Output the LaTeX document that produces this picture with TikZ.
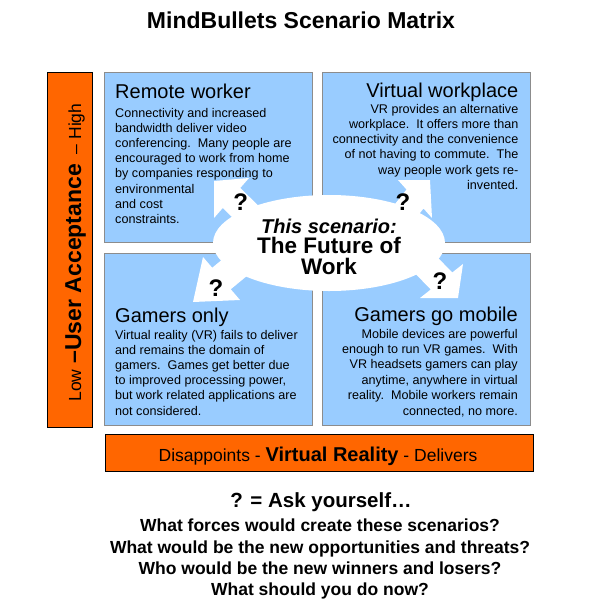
\documentclass[tikz,border=0pt]{standalone}
\usepackage{fontspec}
\setmainfont{Liberation Sans}
\usetikzlibrary{shapes.geometric}
\definecolor{boxblue}{HTML}{99CCFF}
\definecolor{boxgray}{HTML}{8C8C8C}
\definecolor{barorange}{HTML}{FF6600}
\newcommand{\fsz}[2]{\fontsize{#1}{#2}\selectfont}
\begin{document}
\begin{tikzpicture}[x=1pt,y=-1pt,
  quad/.style={draw=boxgray, fill=boxblue, line width=1.2pt, inner sep=0, anchor=north west},
  bar/.style={draw=black, fill=barorange, line width=1pt, inner sep=0, anchor=north west},
  head/.style={font=\fsz{20}{24}, inner sep=0},
  body/.style={font=\fsz{12.6}{15.2}, inner sep=0},
  qmark/.style={font=\bfseries\fsz{24}{28}, inner sep=0},
  ctext/.style={inner sep=0, anchor=base},
  arrowfill/.style={fill=white}
]
\useasboundingbox (0,0) rectangle (600,606);

% title
\node[ctext, font=\bfseries\fsz{23}{28}] (title) at (301,28) {MindBullets Scenario Matrix};

% quadrants
\node[quad, minimum width=208, minimum height=170] (qtl) at (104,72) {};
\node[quad, minimum width=208, minimum height=170] (qtr) at (322,72) {};
\node[quad, minimum width=208, minimum height=172] (qbl) at (104,253) {};
\node[quad, minimum width=208, minimum height=172] (qbr) at (322,253) {};

% axis bars
\node[bar, minimum width=45, minimum height=355] (ybar) at (47,72) {};
\node[bar, minimum width=428, minimum height=37] (xbar) at (105,434) {};

% top left
\node[head, anchor=base west] (htl) at (115,98) {Remote worker};
\foreach \t [count=\i from 0] in {{Connectivity and increased},{bandwidth deliver video},{conferencing.\ \ Many people are},{encouraged to work from home},{by companies responding to},{environmental},{and cost},{constraints.}}
  \node[body, anchor=base west] (tl\i) at (115,{117+15.2*\i}) {\t};

% top right
\node[head, anchor=base east] (htr) at (518.5,97) {Virtual workplace};
\foreach \t [count=\i from 0] in {{VR provides an alternative},{workplace.\ \ It offers more than},{connectivity and the convenience},{of not having to commute.\ \ The},{way people work gets re-},{invented.}}
  \node[body, anchor=base east] (tr\i) at (518.5,{113+15.3*\i}) {\t};

% bottom left
\node[head, anchor=base west] (hbl) at (115,322) {Gamers only};
\foreach \t [count=\i from 0] in {{Virtual reality (VR) fails to deliver},{and remains the domain of},{gamers.\ \ Games get better due},{to improved processing power,},{but work related applications are},{not considered.}}
  \node[body, anchor=base west] (bl\i) at (115,{339+15.2*\i}) {\t};

% bottom right
\node[head, anchor=base east] (hbr) at (518,321) {Gamers go mobile};
\foreach \t [count=\i from 0] in {{Mobile devices are powerful},{enough to run VR games.\ \ With},{VR headsets gamers can play},{anytime, anywhere in virtual},{reality.\ \ Mobile workers remain},{connected, no more.}}
  \node[body, anchor=base east] (br\i) at (518,{338+15.4*\i}) {\t};

% block arrows
\fill[arrowfill] (214,181) -- (249,178) -- (240.25,188) -- (284,230.5) -- (266.5,250.5) -- (222.75,208) -- (214,218) -- cycle;
\fill[arrowfill] (430,180) -- (398,180) -- (406.5,189.5) -- (369,237) -- (386,256) -- (423.5,208.5) -- (432,218) -- cycle;
\fill[arrowfill] (193,302) -- (203,257) -- (212.25,267.75) -- (269,220.75) -- (287.75,242.25) -- (230.75,289.25) -- (240,300) -- cycle;
\fill[arrowfill] (458,298) -- (463,264) -- (452.25,272.5) -- (402.75,221.5) -- (381.25,238.5) -- (430.75,289.5) -- (420,298) -- cycle;

% central ellipse
\node[ellipse, fill=white, minimum width=232, minimum height=96, inner sep=0] (oval) at (329,243) {};
\node[ctext, font=\bfseries\itshape\fsz{20}{24}] (sc1) at (329,233) {This scenario:};
\node[ctext, font=\bfseries\fsz{22.5}{27}] (sc2) at (329,253) {The Future of};
\node[ctext, font=\bfseries\fsz{22.5}{27}] (sc3) at (329,274) {Work};

% question marks
\node[qmark] (qm1) at (240.7,202) {?};
\node[qmark] (qm2) at (403,202) {?};
\node[qmark] (qm3) at (216,288) {?};
\node[qmark] (qm4) at (440,281) {?};

% axis labels
\node[ctext, rotate=90] (ytext) at (81,252.5) {{\fsz{17.5}{21}Low\hspace{6pt}}{\bfseries\fsz{23}{27}–User Acceptance}{\fsz{17.5}{21}\hspace{5pt} – High}};
\node[ctext] (xtext) at (318,461) {{\fsz{17.5}{21}Disappoints - }{\bfseries\fsz{20}{24}Virtual Reality}{\fsz{17.5}{21} - Delivers}};

% questions
\node[ctext, font=\bfseries\fsz{20.5}{24}] (ask) at (321,507) {? = Ask yourself…};
\node[ctext, font=\bfseries\fsz{17.5}{21}] (ask1) at (320,531) {What forces would create these scenarios?};
\node[ctext, font=\bfseries\fsz{17.5}{21}] (ask2) at (320,553) {What would be the new opportunities and threats?};
\node[ctext, font=\bfseries\fsz{17.5}{21}] (ask3) at (320,574) {Who would be the new winners and losers?};
\node[ctext, font=\bfseries\fsz{17.5}{21}] (ask4) at (320,595) {What should you do now?};
\end{tikzpicture}
\end{document}
